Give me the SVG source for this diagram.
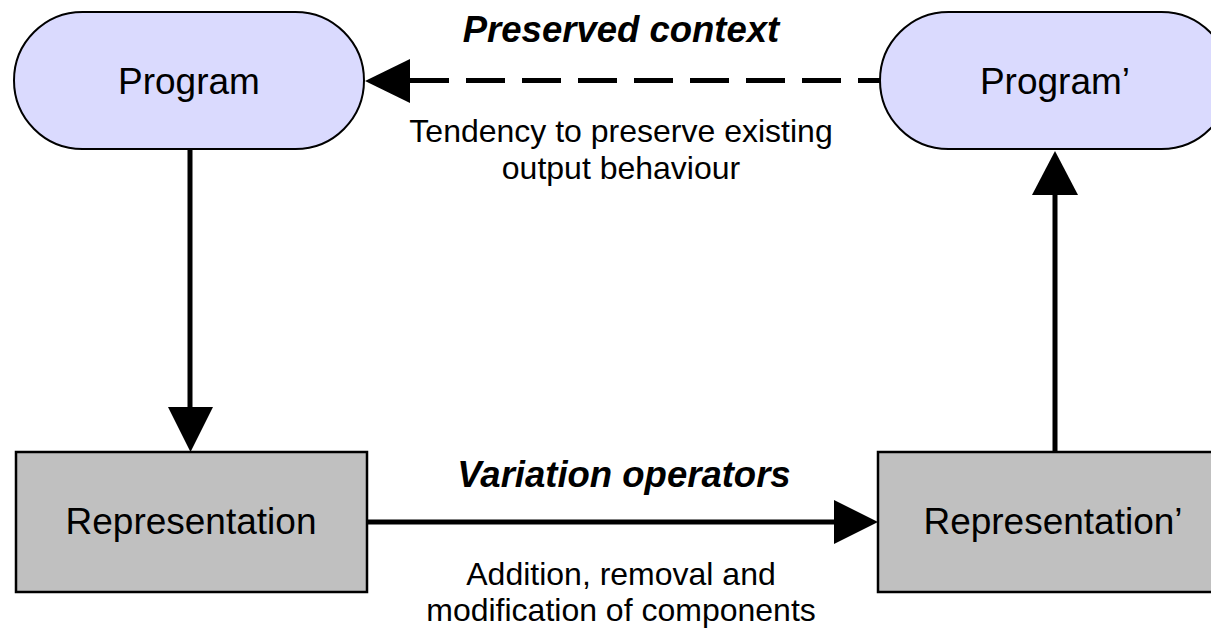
<svg xmlns="http://www.w3.org/2000/svg" width="1211" height="629" viewBox="0 0 1211 629">
<style>
text{font-family:"Liberation Sans",Arial,Helvetica,sans-serif;fill:#000;text-anchor:middle}
.node{font-size:37px}
.title{font-size:36.5px;font-weight:bold;font-style:italic}
.note{font-size:32px}
.pill{fill:#dadafe;stroke:#000;stroke-width:2}
.box{fill:#c0c0c0;stroke:#000;stroke-width:2.5}
.line{stroke:#000;stroke-width:5;fill:none}
.dash{stroke-dasharray:39 17}
.head{fill:#000}
</style>
<rect width="1211" height="629" fill="#fff"/>
<g id="connectors">
<line class="line" x1="190" y1="149" x2="190" y2="409"/>
<polygon class="head" points="168,407 213,407 190.5,452"/>
<line class="line" x1="367" y1="522" x2="836" y2="522"/>
<polygon class="head" points="834,500 834,544 878,522"/>
<line class="line" x1="1055" y1="452" x2="1055" y2="193"/>
<polygon class="head" points="1032,195 1078,195 1055,151"/>
<line class="line dash" x1="410" y1="80.5" x2="880" y2="80.5"/>
<polygon class="head" points="410,59 410,103 365,81"/>
<text class="title" x="621" y="42">Preserved context</text>
<text class="note" x="621" y="142">Tendency to preserve existing</text>
<text class="note" x="621" y="179">output behaviour</text>
<text class="title" x="624" y="487">Variation operators</text>
<text class="note" x="621" y="585">Addition, removal and</text>
<text class="note" x="621" y="621">modification of components</text>
</g>
<g id="program">
<rect class="pill" x="14" y="12" width="350" height="137" rx="68.5" ry="68.5"/>
<text class="node" x="189" y="94">Program</text>
</g>
<g id="program2">
<rect class="pill" x="880" y="12" width="350" height="137" rx="68.5" ry="68.5"/>
<text class="node" x="1055" y="94">Program’</text>
</g>
<g id="representation">
<rect class="box" x="16" y="452" width="351" height="140"/>
<text class="node" x="191" y="534">Representation</text>
</g>
<g id="representation2">
<rect class="box" x="878" y="452" width="352" height="140"/>
<text class="node" x="1053" y="534">Representation’</text>
</g>
</svg>
